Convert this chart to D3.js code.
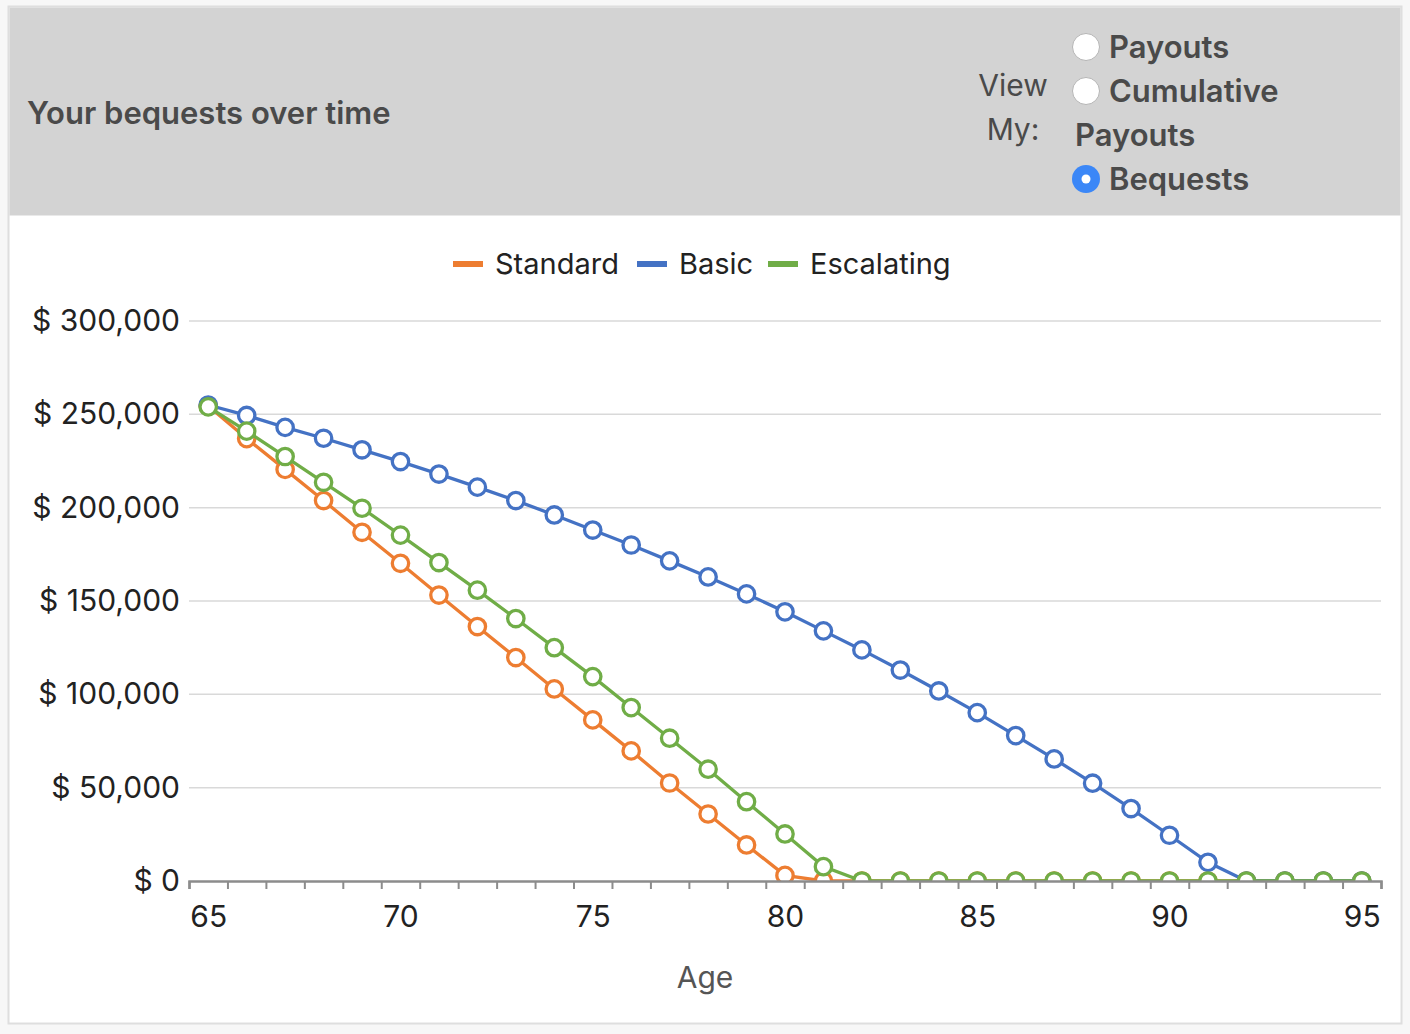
<!DOCTYPE html>
<html>
<head>
<meta charset="utf-8">
<script src="https://cdn.jsdelivr.net/npm/d3@7"></script>
<style>
  html, body { margin: 0; padding: 0; background: #f7f7f7; }
  body { width: 1410px; height: 1034px; overflow: hidden; }
  svg { display: block; }
</style>
</head>
<body>
<div id="chart"></div>
<script>
// chart data
const ages = d3.range(65, 96);
const standard = [254500, 237000, 220500, 203800, 186800, 170200, 153200, 136300, 119700, 102900, 86300, 69700, 52500, 35900, 19300, 3000,
  0, 0, 0, 0, 0, 0, 0, 0, 0, 0, 0, 0, 0, 0, 0];
const basic = [255000, 249400, 243000, 237200, 231000, 224700, 218000, 211000, 203800, 196100, 188000, 180000, 171500, 162900, 153800, 144200,
  134000, 123800, 113000, 101800, 90200, 77900, 65400, 52400, 38800, 24500, 10000, 0, 0, 0, 0];
const escalating = [254000, 241000, 227400, 213600, 199700, 185300, 170600, 155800, 140600, 125000, 109500, 92900, 76500, 59900, 42500, 25200,
  7700, 0, 0, 0, 0, 0, 0, 0, 0, 0, 0, 0, 0, 0, 0];
const seriesNames = ['Standard', 'Basic', 'Escalating'];
const seriesColors = ['#ED7D31', '#4472C4', '#70AD47'];
const yTicks = [0, 50000, 100000, 150000, 200000, 250000, 300000];
const xLabelTicks = [65, 70, 75, 80, 85, 90, 95];
const viewOptions = [
  { label: ['Payouts'], checked: false },
  { label: ['Cumulative', 'Payouts'], checked: false },
  { label: ['Bequests'], checked: true }
];

const W = 1410, H = 1034;
const font = 'Inter, "Open Sans", sans-serif';
const svg = d3.select('#chart').append('svg')
  .attr('width', W)
  .attr('height', H)
  .attr('viewBox', `0 0 ${W} ${H}`);

// card
svg.append('rect')
  .attr('x', 8.5).attr('y', 6.5)
  .attr('width', 1393).attr('height', 1017)
  .attr('fill', '#fff')
  .attr('stroke', '#dedede')
  .attr('stroke-width', 2);

svg.append('rect')
  .attr('x', 9.5).attr('y', 7.5)
  .attr('width', 1391).attr('height', 208)
  .attr('fill', '#d3d3d3');

// header
svg.append('text')
  .attr('x', 27).attr('y', 124)
  .style('font-family', font)
  .style('font-size', '31px')
  .style('font-weight', 600)
  .style('fill', '#4a4a4a')
  .text('Your bequests over time');

const viewLabel = svg.append('text')
  .attr('text-anchor', 'middle')
  .style('font-family', font)
  .style('font-size', '30px')
  .style('fill', '#4a4a4a');
viewLabel.append('tspan').attr('x', 1013).attr('y', 96).text('View');
viewLabel.append('tspan').attr('x', 1013).attr('y', 140).text('My:');

let rowY = 47;
viewOptions.forEach(opt => {
  const g = svg.append('g');
  if (opt.checked) {
    g.append('circle').attr('cx', 1086).attr('cy', rowY).attr('r', 14).attr('fill', '#3b87f7');
    g.append('circle').attr('cx', 1086).attr('cy', rowY).attr('r', 4.5).attr('fill', '#fff');
  } else {
    g.append('circle').attr('cx', 1086).attr('cy', rowY).attr('r', 13.5)
      .attr('fill', '#fff').attr('stroke', '#b5b5b5').attr('stroke-width', 1);
  }
  opt.label.forEach((line, i) => {
    g.append('text')
      .attr('x', i === 0 ? 1109 : 1075)
      .attr('y', rowY + 44 * i)
      .attr('dy', '0.36em')
      .style('font-family', font)
      .style('font-size', '31px')
      .style('font-weight', 600)
      .style('fill', '#4a4a4a')
      .text(line);
  });
  rowY += 44 * opt.label.length;
});

// scales
const x = d3.scaleLinear().domain([64.5, 95.5]).range([189, 1381]);
const y = d3.scaleLinear().domain([0, 300000]).range([881, 321]);

svg.append('defs').append('clipPath')
  .attr('id', 'plot-clip')
  .append('rect')
  .attr('x', 150).attr('y', 280)
  .attr('width', 1260).attr('height', 881 - 280);

// gridlines
svg.append('g')
  .selectAll('line')
  .data(yTicks.filter(d => d > 0))
  .join('line')
  .attr('x1', 189).attr('x2', 1381)
  .attr('y1', d => y(d)).attr('y2', d => y(d))
  .attr('stroke', '#d9d9d9')
  .attr('stroke-width', 1.5);

// y axis
const yAxis = svg.append('g')
  .attr('transform', 'translate(180,0)')
  .call(d3.axisLeft(y).tickValues(yTicks).tickSize(0).tickPadding(0)
    .tickFormat(d => '$ ' + d3.format(',')(d)));
yAxis.select('.domain').remove();
yAxis.selectAll('text')
  .style('font-family', font)
  .style('font-size', '30px')
  .style('fill', '#222');

// series
const allSeries = [standard, basic, escalating];
const line = d3.line().x((d, i) => x(ages[i])).y(d => y(d));
const plot = svg.append('g').attr('clip-path', 'url(#plot-clip)');
allSeries.forEach((vals, si) => {
  const g = plot.append('g');
  g.append('path')
    .datum(vals)
    .attr('d', line)
    .attr('fill', 'none')
    .attr('stroke', seriesColors[si])
    .attr('stroke-width', 3.3);
  g.selectAll('circle')
    .data(vals)
    .join('circle')
    .attr('cx', (d, i) => x(ages[i]))
    .attr('cy', d => y(d))
    .attr('r', 8.2)
    .attr('fill', '#fff')
    .attr('stroke', seriesColors[si])
    .attr('stroke-width', 3.3);
});

// x axis: tick marks at category boundaries
const xTickAxis = svg.append('g')
  .attr('transform', 'translate(0,881)')
  .call(d3.axisBottom(x).tickValues(d3.range(64.5, 96, 1)).tickSize(8).tickFormat(''));
xTickAxis.select('.domain').attr('stroke', '#8c8c8c').attr('stroke-width', 2.5);
xTickAxis.selectAll('.tick line').attr('stroke', '#8c8c8c').attr('stroke-width', 2);

const xLabelAxis = svg.append('g')
  .attr('transform', 'translate(0,881)')
  .call(d3.axisBottom(x).tickValues(xLabelTicks).tickSize(0).tickPadding(25).tickFormat(d3.format('d')));
xLabelAxis.select('.domain').remove();
xLabelAxis.selectAll('text')
  .style('font-family', font)
  .style('font-size', '30px')
  .style('fill', '#222');

svg.append('text')
  .attr('x', 705).attr('y', 988)
  .attr('text-anchor', 'middle')
  .style('font-family', font)
  .style('font-size', '30px')
  .style('fill', '#555')
  .text('Age');

// legend
const legendX = [453, 637, 768];
const legend = svg.append('g');
seriesNames.forEach((name, i) => {
  legend.append('rect')
    .attr('x', legendX[i]).attr('y', 261)
    .attr('width', 30).attr('height', 6)
    .attr('fill', seriesColors[i]);
  legend.append('text')
    .attr('x', legendX[i] + 42).attr('y', 264)
    .attr('dy', '0.36em')
    .style('font-family', font)
    .style('font-size', '29px')
    .style('fill', '#222')
    .text(name);
});
</script>
</body>
</html>
